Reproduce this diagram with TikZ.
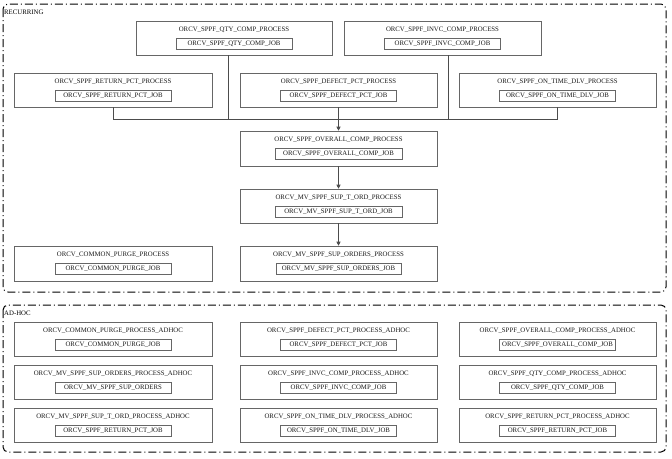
\documentclass[tikz,border=0pt]{standalone}
\usepackage{fontspec}
\setmainfont{Liberation Serif}
\usetikzlibrary{arrows.meta}
\newcommand\procbox[8]{%
  \node[procframe, minimum width={(#4-#2)*1pt}, minimum height={(#5-#3)*1pt}] (#1) at ({(#2+#4)/2},{(#3+#5)/2}) {};
  \node[proctitle] (#1t) at ({(#2+#4)/2},{#3+8.5}) {#6};
  \node[jobbox, minimum width={#8*1pt}] (#1j) at ({(#2+#4)/2},{#3+23}) {#7};
}
\begin{document}
\begin{tikzpicture}[x=1pt,y=-1pt,
  procframe/.style={draw=black!60, line width=0.6pt, inner sep=0pt, fill=white},
  proctitle/.style={font=\fontsize{6.8}{7}\selectfont, text=black!90, inner sep=0pt},
  jobbox/.style={draw=black!60, line width=0.6pt, font=\fontsize{6.8}{7}\selectfont, text=black!90, inner sep=0pt, minimum height=11pt},
  groupframe/.style={draw=black, line width=1pt, rounded corners=5pt, dash pattern=on 8pt off 3pt on 1pt off 3pt},
  grouplabel/.style={font=\fontsize{6.8}{7}\selectfont, text=black, inner sep=0pt, anchor=west},
  conn/.style={draw=black!70, line width=0.6pt},
  arr/.style={conn, -{Triangle[width=4pt,length=4pt]}}
]
\useasboundingbox (0,0) rectangle (672,458);
\fill[white] (0,0) rectangle (672,458);

% group frames
\draw[groupframe] (3,4) rectangle (666,292);
\node[grouplabel] (lrec) at (4,12) {RECURRING};
\draw[groupframe] (3,305) rectangle (666,452);
\node[grouplabel] (ladh) at (4,313) {AD-HOC};

% recurring
\procbox{qty}{136}{21}{332}{55}{ORCV\_SPPF\_QTY\_COMP\_PROCESS}{ORCV\_SPPF\_QTY\_COMP\_JOB}{116}
\procbox{inv}{344}{21}{541}{55}{ORCV\_SPPF\_INVC\_COMP\_PROCESS}{ORCV\_SPPF\_INVC\_COMP\_JOB}{116}
\procbox{ret}{14}{73}{212}{107}{ORCV\_SPPF\_RETURN\_PCT\_PROCESS}{ORCV\_SPPF\_RETURN\_PCT\_JOB}{116}
\procbox{def}{240}{73}{437}{107}{ORCV\_SPPF\_DEFECT\_PCT\_PROCESS}{ORCV\_SPPF\_DEFECT\_PCT\_JOB}{116}
\procbox{ont}{459}{73}{656}{107}{ORCV\_SPPF\_ON\_TIME\_DLV\_PROCESS}{ORCV\_SPPF\_ON\_TIME\_DLV\_JOB}{116}
\procbox{ovr}{240}{131}{437}{166}{ORCV\_SPPF\_OVERALL\_COMP\_PROCESS}{ORCV\_SPPF\_OVERALL\_COMP\_JOB}{127}
\procbox{sto}{240}{189}{437}{223}{ORCV\_MV\_SPPF\_SUP\_T\_ORD\_PROCESS}{ORCV\_MV\_SPPF\_SUP\_T\_ORD\_JOB}{127}
\procbox{sor}{240}{246}{437}{281}{ORCV\_MV\_SPPF\_SUP\_ORDERS\_PROCESS}{ORCV\_MV\_SPPF\_SUP\_ORDERS\_JOB}{125}
\procbox{pur}{14}{246}{212}{281}{ORCV\_COMMON\_PURGE\_PROCESS}{ORCV\_COMMON\_PURGE\_JOB}{116}

% connectors
\coordinate (bus) at (0,119);
\draw[conn] (ret.south) -- (ret.south |- bus) -- (ont.south |- bus) -- (ont.south);
\draw[conn] ([xshift=-6pt]qty.south) -- ([xshift=-6pt]qty.south |- bus);
\draw[conn] ([xshift=6pt]inv.south) -- ([xshift=6pt]inv.south |- bus);
\draw[arr] (def.south) -- (ovr.north);
\draw[arr] (ovr.south) -- (sto.north);
\draw[arr] (sto.south) -- (sor.north);

% ad-hoc
\procbox{a1}{14}{322}{212}{356}{ORCV\_COMMON\_PURGE\_PROCESS\_ADHOC}{ORCV\_COMMON\_PURGE\_JOB}{116}
\procbox{a2}{14}{365}{212}{399}{ORCV\_MV\_SPPF\_SUP\_ORDERS\_PROCESS\_ADHOC}{ORCV\_MV\_SPPF\_SUP\_ORDERS}{116}
\procbox{a3}{14}{408}{212}{442}{ORCV\_MV\_SPPF\_SUP\_T\_ORD\_PROCESS\_ADHOC}{ORCV\_SPPF\_RETURN\_PCT\_JOB}{116}
\procbox{b1}{240}{322}{437}{356}{ORCV\_SPPF\_DEFECT\_PCT\_PROCESS\_ADHOC}{ORCV\_SPPF\_DEFECT\_PCT\_JOB}{116}
\procbox{b2}{240}{365}{437}{399}{ORCV\_SPPF\_INVC\_COMP\_PROCESS\_ADHOC}{ORCV\_SPPF\_INVC\_COMP\_JOB}{116}
\procbox{b3}{240}{408}{437}{442}{ORCV\_SPPF\_ON\_TIME\_DLV\_PROCESS\_ADHOC}{ORCV\_SPPF\_ON\_TIME\_DLV\_JOB}{116}
\procbox{c1}{459}{322}{656}{356}{ORCV\_SPPF\_OVERALL\_COMP\_PROCESS\_ADHOC}{ORCV\_SPPF\_OVERALL\_COMP\_JOB}{116}
\procbox{c2}{459}{365}{656}{399}{ORCV\_SPPF\_QTY\_COMP\_PROCESS\_ADHOC}{ORCV\_SPPF\_QTY\_COMP\_JOB}{116}
\procbox{c3}{459}{408}{656}{442}{ORCV\_SPPF\_RETURN\_PCT\_PROCESS\_ADHOC}{ORCV\_SPPF\_RETURN\_PCT\_JOB}{116}
\end{tikzpicture}
\end{document}
